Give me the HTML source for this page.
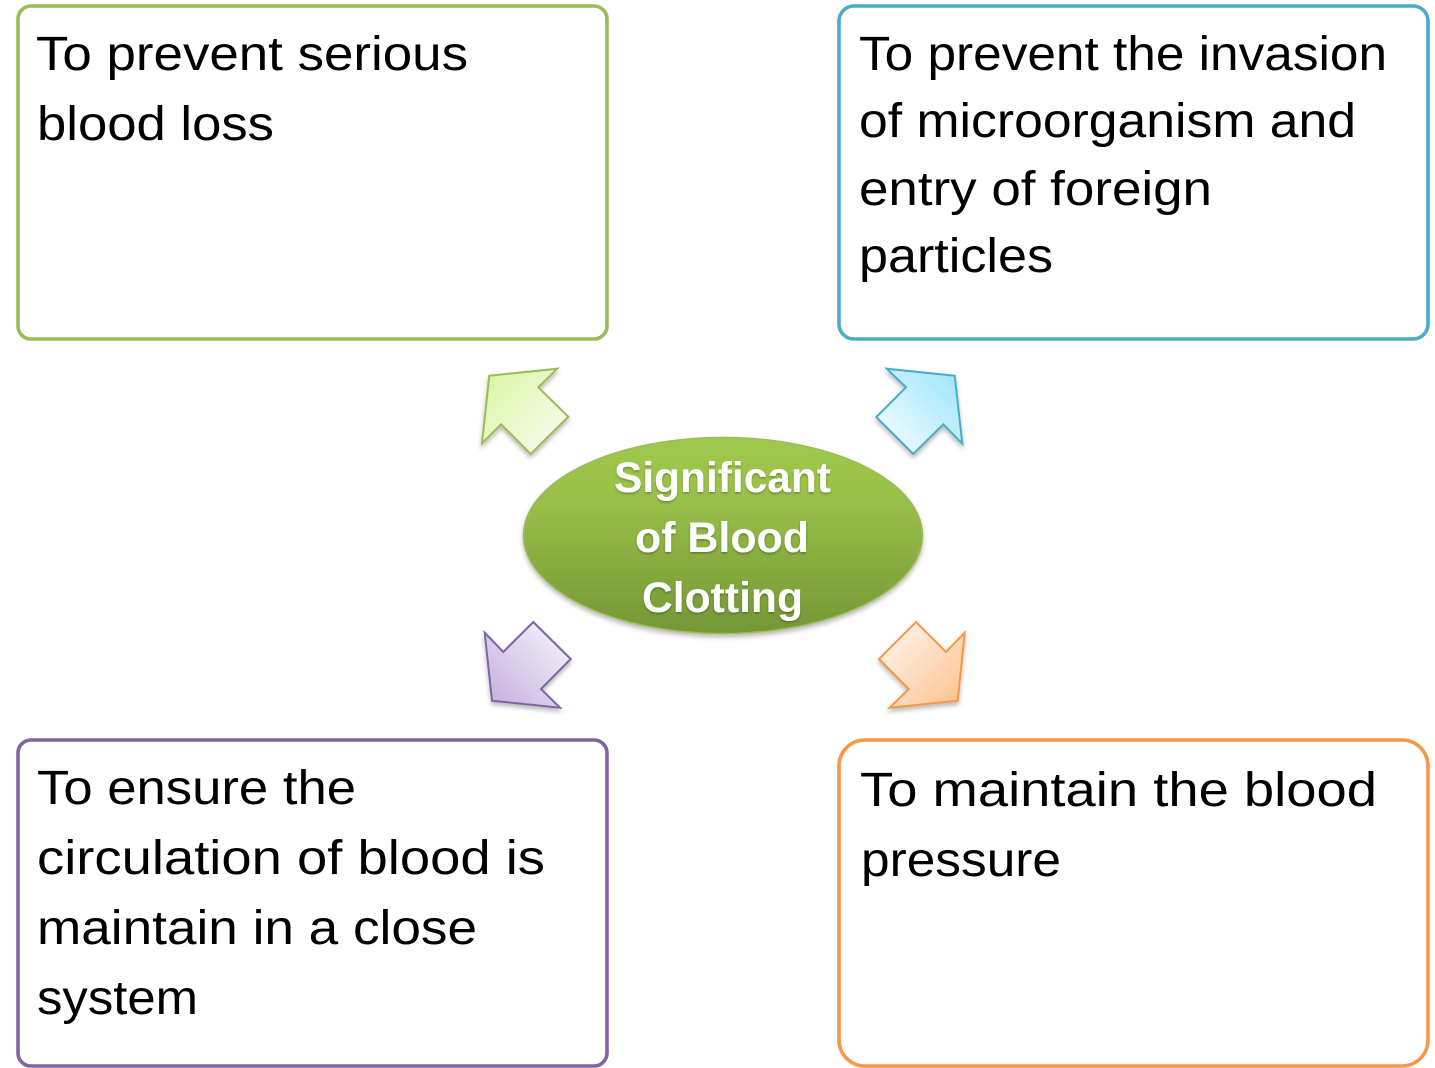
<!DOCTYPE html>
<html>
<head>
<meta charset="utf-8">
<style>
html,body{margin:0;padding:0;background:#fff;width:1435px;height:1068px;overflow:hidden}
svg{display:block}
text{font-family:"Liberation Sans",sans-serif;fill:#000;font-size:48px}
.c{font-weight:bold;fill:#fff;font-size:43px}
</style>
</head>
<body>
<svg width="1435" height="1068" viewBox="0 0 1435 1068" xmlns="http://www.w3.org/2000/svg">
<defs>
<linearGradient id="gE" x1="0" y1="0" x2="0" y2="1"><stop offset="0" stop-color="#9fc94c"/><stop offset="0.3" stop-color="#99c149"/><stop offset="1" stop-color="#759636"/></linearGradient>
<linearGradient id="gG" gradientUnits="userSpaceOnUse" x1="490" y1="376" x2="555" y2="440"><stop offset="0" stop-color="#daf6a8"/><stop offset="1" stop-color="#f5fbe8"/></linearGradient>
<linearGradient id="gB" gradientUnits="userSpaceOnUse" x1="955" y1="376" x2="890" y2="440"><stop offset="0" stop-color="#a2e6fd"/><stop offset="1" stop-color="#eafaff"/></linearGradient>
<linearGradient id="gP" gradientUnits="userSpaceOnUse" x1="492" y1="700" x2="557" y2="636"><stop offset="0" stop-color="#c6b3e0"/><stop offset="1" stop-color="#f1ecf8"/></linearGradient>
<linearGradient id="gO" gradientUnits="userSpaceOnUse" x1="958" y1="700" x2="893" y2="636"><stop offset="0" stop-color="#fdc493"/><stop offset="1" stop-color="#fff0e5"/></linearGradient>
<filter id="s" x="-20%" y="-20%" width="140%" height="140%"><feDropShadow dx="0" dy="3" stdDeviation="2.5" flood-color="#000" flood-opacity="0.28"/></filter>
<filter id="ts" x="-10%" y="-10%" width="120%" height="120%"><feDropShadow dx="0" dy="1.5" stdDeviation="1" flood-color="#000" flood-opacity="0.3"/></filter>
</defs>

<rect x="18" y="6" width="589" height="333" rx="13" fill="#fff" stroke="#9bbb59" stroke-width="3.6"/>
<rect x="839" y="6" width="589" height="333" rx="15" fill="#fff" stroke="#4bacc6" stroke-width="3.6"/>
<rect x="18" y="740" width="589" height="326" rx="13" fill="#fff" stroke="#8064a2" stroke-width="3.6"/>
<rect x="839" y="740" width="589" height="326" rx="26" fill="#fff" stroke="#f79646" stroke-width="3.6"/>

<g stroke-width="2" stroke-linejoin="miter" filter="url(#s)">
<polygon points="489.3,375.7 557.3,368.7 538.3,387.3 568.3,416.7 530.7,454 501,424.3 482,443.3" fill="url(#gG)" stroke="#9bbb59"/>
<polygon points="954.7,375.7 886.7,368.7 906,387.3 876.3,417 913.3,454 943.3,424.3 962.3,443.7" fill="url(#gB)" stroke="#4bacc6"/>
<polygon points="492,700.7 560,707.7 541,689 570.7,659 533.3,622 503.3,652 484.7,632.7" fill="url(#gP)" stroke="#8064a2"/>
<polygon points="957.7,700.7 889.7,707.7 908.7,689 879,659 916,622 946,652 964.7,632.7" fill="url(#gO)" stroke="#f79646"/>
</g>

<ellipse cx="723" cy="535.5" rx="199.5" ry="98" fill="url(#gE)" stroke="#9bbb59" stroke-width="1.5" filter="url(#s)"/>

<g>
<text x="36" y="70" textLength="432" lengthAdjust="spacingAndGlyphs">To prevent serious</text>
<text x="37" y="140" textLength="237" lengthAdjust="spacingAndGlyphs">blood loss</text>

<text x="859" y="70" textLength="528" lengthAdjust="spacingAndGlyphs">To prevent the invasion</text>
<text x="859" y="137" textLength="497" lengthAdjust="spacingAndGlyphs">of microorganism and</text>
<text x="859" y="205" textLength="353" lengthAdjust="spacingAndGlyphs">entry of foreign</text>
<text x="859" y="272" textLength="194" lengthAdjust="spacingAndGlyphs">particles</text>

<text x="37" y="804" textLength="319" lengthAdjust="spacingAndGlyphs">To ensure the</text>
<text x="37" y="874" textLength="508" lengthAdjust="spacingAndGlyphs">circulation of blood is</text>
<text x="37" y="944" textLength="440" lengthAdjust="spacingAndGlyphs">maintain in a close</text>
<text x="37" y="1014" textLength="161" lengthAdjust="spacingAndGlyphs">system</text>

<text x="860" y="806" textLength="517" lengthAdjust="spacingAndGlyphs">To maintain the blood</text>
<text x="861" y="876" textLength="200" lengthAdjust="spacingAndGlyphs">pressure</text>
</g>

<g filter="url(#ts)">
<text class="c" x="614" y="492" textLength="217" lengthAdjust="spacingAndGlyphs">Significant</text>
<text class="c" x="635" y="552" textLength="174" lengthAdjust="spacingAndGlyphs">of Blood</text>
<text class="c" x="642" y="612" textLength="161" lengthAdjust="spacingAndGlyphs">Clotting</text>
</g>
</svg>
</body>
</html>
